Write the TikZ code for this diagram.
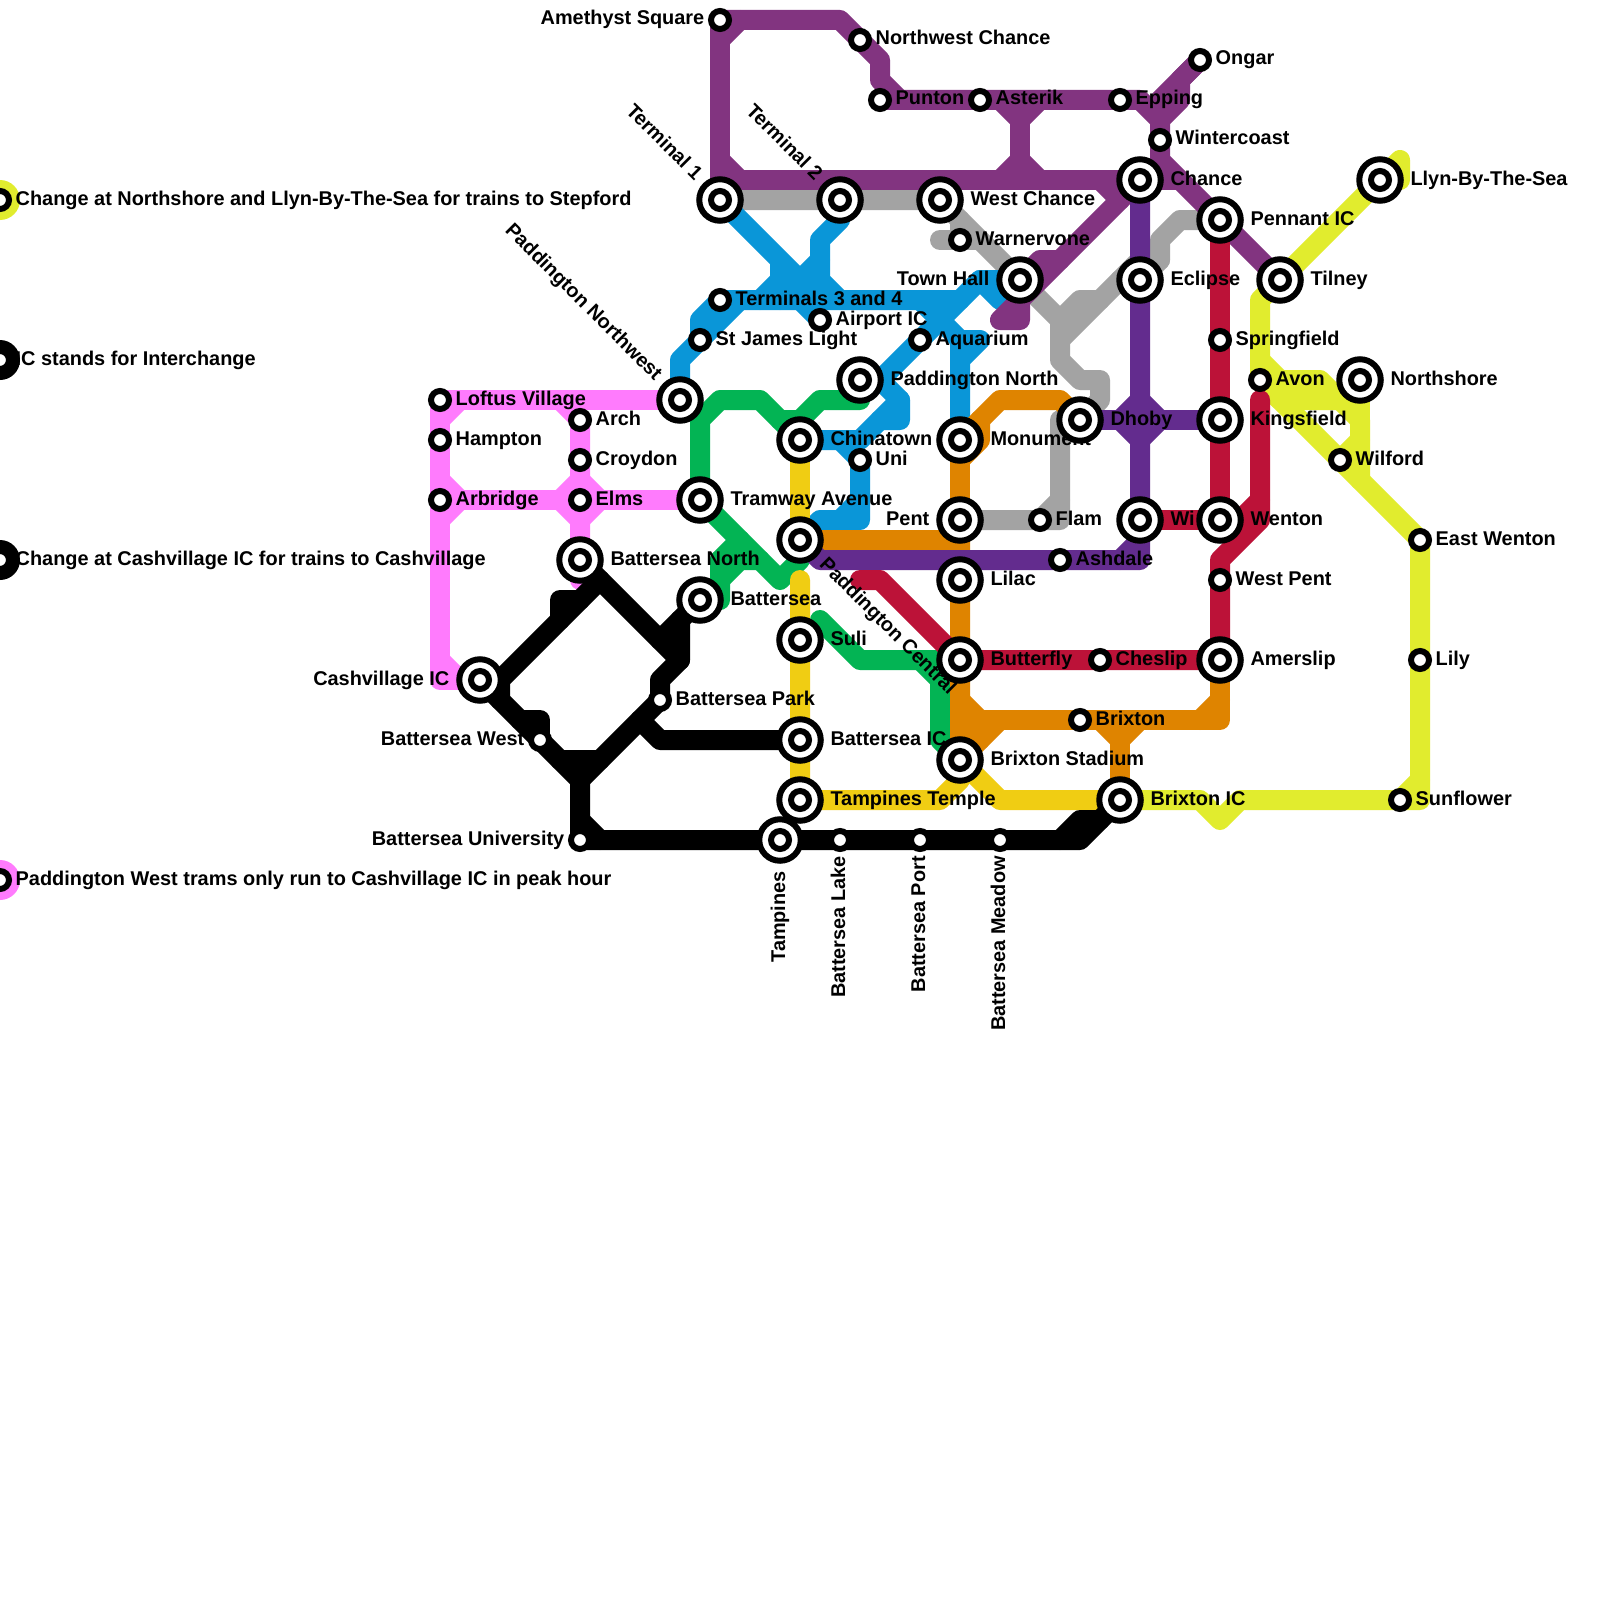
\documentclass[tikz,border=0pt]{standalone}
\usepackage{fontspec}
\setmainfont{Liberation Sans}[BoldFont={Liberation Sans Bold}]
\definecolor{cPurple}{HTML}{823480}
\definecolor{cDark}{HTML}{632C8E}
\definecolor{cBlue}{HTML}{0A96D8}
\definecolor{cGreen}{HTML}{03B454}
\definecolor{cYellow}{HTML}{F0CD13}
\definecolor{cOrange}{HTML}{DF8400}
\definecolor{cRed}{HTML}{BC1238}
\definecolor{cPink}{HTML}{FF7BFD}
\definecolor{cLime}{HTML}{E1EC2E}
\definecolor{cGray}{HTML}{A3A3A3}
\tikzset{
  route/.style={line width=20pt,line join=round,line cap=round,#1},
  ringbig/.style={circle,draw=black,fill=white,line width=6pt,minimum size=41.5pt,inner sep=0pt},
  ringsmall/.style={circle,draw=black,fill=white,line width=6pt,minimum size=18pt,inner sep=0pt},
  halo/.style={circle,fill=#1,minimum size=40pt,inner sep=0pt},
  lab/.style={font=\fontsize{19.9}{24}\selectfont\bfseries,inner sep=0pt,text=black},
}
\newcommand{\stS}[1]{\node[ringsmall] (st-#1) at (#1) {};}
\newcommand{\stB}[1]{\node[ringbig] (st-#1) at (#1) {};\node[ringsmall] (sti-#1) at (#1) {};}
\newcommand{\labSR}[2]{\node[lab,anchor=base west] (l-#1) at ([shift={(15.5,5)}]#1) {#2};}
\newcommand{\labSL}[2]{\node[lab,anchor=base east] (l-#1) at ([shift={(-15.5,5)}]#1) {#2};}
\newcommand{\labBR}[2]{\node[lab,anchor=base west] (l-#1) at ([shift={(30.3,5)}]#1) {#2};}
\newcommand{\labBL}[2]{\node[lab,anchor=base east] (l-#1) at ([shift={(-30.5,5)}]#1) {#2};}
\newcommand{\labNW}[2]{\node[lab,anchor=base east,rotate=-45] (l-#1) at ([shift={(-25.5,-18.5)}]#1) {#2};}
\newcommand{\labSE}[2]{\node[lab,anchor=base west,rotate=-45] (l-#1) at ([shift={(18.5,25.5)}]#1) {#2};}
\newcommand{\labUp}[3]{\node[lab,anchor=base east,rotate=90] (l-#1) at ([shift={(5,#3)}]#1) {#2};}
\begin{document}
\begin{tikzpicture}[x=1pt,y=-1pt]
\useasboundingbox (0,0) rectangle (1600,1600);
\fill[white] (0,0) rectangle (1600,1600);
\clip (0,0) rectangle (1600,1600);
% stations
\foreach \n/\x/\y in {terminalA/720/200,terminalB/840/200,westchance/940/200,chance/1140/180,pennant/1220/220,tilney/1280/280,llyn/1380/180,townhall/1020/280,eclipse/1140/280,northshore/1360/380,padnw/680/400,padnorth/860/380,chinatown/800/440,monument/960/440,dhoby/1080/420,kingsfield/1220/420,tramway/700/500,padcentral/800/540,pent/960/520,wi/1140/520,wenton/1220/520,batnorth/580/560,battersea/700/600,lilac/960/580,suli/800/640,butterfly/960/660,amerslip/1220/660,cashvillage/480/680,batic/800/740,brixstad/960/760,temple/800/800,brixic/1120/800,tampines/780/840,
amethyst/720/20,nwchance/860/40,punton/880/100,asterik/980/100,epping/1120/100,ongar/1200/60,wintercoast/1160/140,warnervone/960/240,terminals/720/300,airport/820/320,stjames/700/340,aquarium/920/340,springfield/1220/340,avon/1260/380,wilford/1340/460,eastwenton/1420/540,loftus/440/400,arch/580/420,hampton/440/440,croydon/580/460,arbridge/440/500,elms/580/500,uni/860/460,flam/1040/520,ashdale/1060/560,westpent/1220/580,cheslip/1100/660,brixton/1080/720,batpark/660/700,batwest/540/740,batuni/580/840,batlake/840/840,batport/920/840,batmeadow/1000/840,lily/1420/660,sunflower/1400/800,
legA/0/200,legB/0/360,legC/0/560,legD/0/880}
  {\coordinate (\n) at (\x,\y);}
% lime
\draw[route=cLime] (brixic) -- (1200,800) -- (1220,820) -- (1240,800) -- (1420,800) -- (lily) -- (eastwenton) -- (wilford) -- (avon) -- (1260,300) -- (tilney) -- (1400,160) -- (1400,180) -- (llyn);
\draw[route=cLime] (sunflower) -- (1420,780);
\draw[route=cLime] (1260,360) -- (1280,380) -- (1320,380) -- (1360,420) -- (1360,480);
\draw[route=cLime] (northshore) -- (1360,420);
\draw[route=cLime] (1360,440) -- (wilford);
\draw[route=cLime] (avon) -- (1280,400) -- (1340,400);
% pink
\draw[route=cPink] (padnw) -- (loftus) -- (hampton) -- (arbridge) -- (440,680) -- (cashvillage);
\draw[route=cPink] (440,660) -- (460,680);
\draw[route=cPink] (440,420) -- (460,400);
\draw[route=cPink] (560,400) -- (arch) -- (croydon) -- (elms) -- (batnorth) -- (580,580);
\draw[route=cPink] (arbridge) -- (tramway);
\draw[route=cPink] (440,480) -- (460,500) -- (440,520);
\draw[route=cPink] (560,500) -- (580,480) -- (600,500) -- (580,520) -- (560,500);
% gray
\draw[route=cGray] (terminalA) -- (westchance) -- (1060,320) -- (1060,360) -- (1080,380) -- (1100,380) -- (1100,400) -- (dhoby) -- (1060,420) -- (1060,520) -- (pent);
\draw[route=cGray] (1040,520) -- (1060,500);
\draw[route=cGray] (960,220) -- (warnervone) -- (940,240) -- (980,240);
\draw[route=cGray] (1060,340) -- (1140,260) -- (1160,260);
\draw[route=cGray] (1060,320) -- (1080,300) -- (1100,300);
\draw[route=cGray] (eclipse) -- (1120,280);
\draw[route=cGray] (eclipse) -- (1160,260) -- (1160,240) -- (1180,220) -- (pennant);
% blue
\draw[route=cBlue] (terminalA) -- (820,300);
\draw[route=cBlue] (terminalB) -- (840,220) -- (820,240) -- (820,280) -- (840,300);
\draw[route=cBlue] (820,260) -- (780,300);
\draw[route=cBlue] (780,265) -- (780,280) -- (760,300);
\draw[route=cBlue] (padnw) -- (680,360) -- (stjames) -- (740,300);
\draw[route=cBlue] (stjames) -- (700,320) -- (terminals) -- (960,300) -- (980,280) -- (townhall);
\draw[route=cBlue] (980,280) -- (1000,300);
\draw[route=cBlue] (800,300) -- (airport);
\draw[route=cBlue] (960,300) -- (aquarium) -- (880,380) -- (900,400) -- (900,420) -- (880,420);
\draw[route=cBlue] (920,300) -- (960,340) -- (980,340) -- (960,360) -- (monument);
\draw[route=cBlue] (960,340) -- (960,360);
\draw[route=cBlue] (chinatown) -- (860,440) -- (900,400);
\draw[route=cBlue] (840,440) -- (uni) -- (860,520) -- (820,520) -- (padcentral);
\draw[route=cBlue] (840,520) -- (860,500);
% green
\draw[route=cGreen] (tramway) -- (700,420) -- (720,400) -- (760,400) -- (chinatown);
\draw[route=cGreen] (780,420) -- (800,420) -- (820,400) -- (860,400);
\draw[route=cGreen] (tramway) -- (780,580) -- (800,560) -- (padcentral);
\draw[route=cGreen] (740,540) -- (720,560) -- (720,600);
\draw[route=cGreen] (720,580) -- (740,560) -- (760,560);
\draw[route=cGreen] (720,560) -- (740,560);
\draw[route=cGreen] (820,620) -- (860,660) -- (butterfly);
\draw[route=cGreen] (920,660) -- (940,680) -- (940,740) -- (brixstad);
% yellow
\draw[route=cYellow] (chinatown) -- (padcentral);
\draw[route=cYellow] (800,580) -- (suli) -- (batic) -- (temple) -- (940,800) -- (960,780) -- (brixstad);
\draw[route=cYellow] (brixstad) -- (1000,800) -- (brixic);
% orange
\draw[route=cOrange] (monument) -- (1000,400) -- (1060,400) -- (dhoby);
\draw[route=cOrange] (980,420) -- (980,440) -- (960,460);
\draw[route=cOrange] (monument) -- (pent) -- (960,540) -- (padcentral);
\draw[route=cOrange] (960,540) -- (lilac) -- (butterfly) -- (960,720) -- (980,740) -- (1000,720);
\draw[route=cOrange] (960,720) -- (brixstad);
\draw[route=cOrange] (980,740) -- (brixstad);
\draw[route=cOrange] (960,700) -- (980,720);
\draw[route=cOrange] (960,720) -- (1220,720) -- (amerslip);
\draw[route=cOrange] (1200,720) -- (1220,700);
\draw[route=cOrange] (1100,720) -- (1120,740) -- (1140,720);
\draw[route=cOrange] (1120,740) -- (brixic);
% purple
\draw[route=cPurple] (amethyst) -- (840,20) -- (880,60) -- (880,80) -- (900,100);
\draw[route=cPurple] (720,40) -- (740,20);
\draw[route=cPurple] (amethyst) -- (terminalA);
\draw[route=cPurple] (720,160) -- (740,180);
\draw[route=cPurple] (punton) -- (1140,100) -- (1160,120);
\draw[route=cPurple] (ongar) -- (1160,100);
\draw[route=cPurple] (ongar) -- (1180,80) -- (1180,100) -- (1160,120) -- (1160,160) -- (tilney);
\draw[route=cPurple] (1000,100) -- (1020,120) -- (1040,100);
\draw[route=cPurple] (1020,120) -- (1020,160);
\draw[route=cPurple] (1000,180) -- (1020,160) -- (1040,180);
\draw[route=cPurple] (720,180) -- (chance) -- (1180,180);
\draw[route=cPurple] (1100,180) -- (1120,200);
\draw[route=cPurple] (chance) -- (1020,300) -- (1000,320) -- (1020,320) -- (townhall);
\draw[route=cPurple] (1060,260) -- (1040,260) -- (townhall);
% dark purple
\draw[route=cDark] (chance) -- (eclipse) -- (dhoby -| chance) -- (wi) -- (1140,560) -- (ashdale) -- (820,560) -- (padcentral);
\draw[route=cDark] (1120,560) -- (1140,540);
\draw[route=cDark] (dhoby) -- (kingsfield);
\draw[route=cDark] (1120,420) -- (1140,400) -- (1160,420) -- (1140,440) -- (1120,420);
% red
\draw[route=cRed] (pennant) -- (springfield) -- (kingsfield) -- (wenton) -- (wi);
\draw[route=cRed] (wenton) -- (1240,520) -- (1260,500);
\draw[route=cRed] (1260,400) -- (1260,520) -- (1220,560) -- (westpent) -- (amerslip) -- (cheslip) -- (butterfly) -- (880,580) -- (860,580);
% black
\draw[route=black] (batnorth) -- (680,660) -- (680,620);
\draw[route=black] (battersea) -- (660,640);
\draw[route=black] (680,660) -- (660,680) -- (batpark) -- (580,780);
\draw[route=black] (600,580) -- (500,680) -- (500,700) -- (580,780);
\draw[route=black] (cashvillage) -- (500,700);
\draw[route=black] (cashvillage) -- (500,680);
\draw[route=black] (560,620) -- (560,600) -- (580,600);
\draw[route=black] (520,720) -- (540,720) -- (batwest);
\draw[route=black] (560,760) -- (600,760);
\draw[route=black] (640,720) -- (660,740) -- (batic);
\draw[route=black] (580,760) -- (batuni) -- (tampines) -- (batlake) -- (batport) -- (batmeadow) -- (1080,840) -- (brixic);
\draw[route=black] (580,820) -- (600,840);
\draw[route=black] (1060,840) -- (1080,820) -- (1100,820);
% legend halos
\node[halo=cLime] (h-legA) at (legA) {};
\node[halo=black] (h-legB) at (legB) {};
\node[halo=black] (h-legC) at (legC) {};
\node[halo=cPink] (h-legD) at (legD) {};
% labels
\foreach \n/\t in {nwchance/Northwest Chance,punton/Punton,asterik/Asterik,epping/Epping,ongar/Ongar,wintercoast/Wintercoast,warnervone/Warnervone,terminals/Terminals 3 and 4,airport/Airport IC,stjames/St James Light,aquarium/Aquarium,springfield/Springfield,avon/Avon,wilford/Wilford,eastwenton/East Wenton,loftus/Loftus Village,arch/Arch,hampton/Hampton,croydon/Croydon,arbridge/Arbridge,elms/Elms,uni/Uni,flam/Flam,ashdale/Ashdale,westpent/West Pent,cheslip/Cheslip,brixton/Brixton,batpark/Battersea Park,lily/Lily,sunflower/Sunflower}
  {\labSR{\n}{\t}}
\foreach \n/\t in {amethyst/Amethyst Square,batwest/Battersea West,batuni/Battersea University}
  {\labSL{\n}{\t}}
\foreach \n/\t in {westchance/West Chance,chance/Chance,pennant/Pennant IC,tilney/Tilney,llyn/Llyn-By-The-Sea,eclipse/Eclipse,northshore/Northshore,padnorth/Paddington North,chinatown/Chinatown,monument/Monument,dhoby/Dhoby,kingsfield/Kingsfield,tramway/Tramway Avenue,wi/Wi,wenton/Wenton,batnorth/Battersea North,battersea/Battersea,lilac/Lilac,suli/Suli,butterfly/Butterfly,amerslip/Amerslip,batic/Battersea IC,brixstad/Brixton Stadium,temple/Tampines Temple,brixic/Brixton IC}
  {\labBR{\n}{\t}}
\foreach \n/\t in {townhall/Town Hall,pent/Pent,cashvillage/Cashvillage IC}
  {\labBL{\n}{\t}}
\labNW{terminalA}{Terminal 1}
\labNW{terminalB}{Terminal 2}
\labNW{padnw}{Paddington Northwest}
\labSE{padcentral}{Paddington Central}
\labUp{tampines}{Tampines}{31}
\labUp{batlake}{Battersea Lake}{16}
\labUp{batport}{Battersea Port}{16}
\labUp{batmeadow}{Battersea Meadow}{16}
% stations on top
\foreach \n in {terminalA,terminalB,westchance,chance,pennant,tilney,llyn,townhall,eclipse,northshore,padnw,padnorth,chinatown,monument,dhoby,kingsfield,tramway,padcentral,pent,wi,wenton,batnorth,battersea,lilac,suli,butterfly,amerslip,cashvillage,batic,brixstad,temple,brixic,tampines}
  {\stB{\n}}
\foreach \n in {amethyst,nwchance,punton,asterik,epping,ongar,wintercoast,warnervone,terminals,airport,stjames,aquarium,springfield,avon,wilford,eastwenton,loftus,arch,hampton,croydon,arbridge,elms,uni,flam,ashdale,westpent,cheslip,brixton,batpark,batwest,batuni,batlake,batport,batmeadow,lily,sunflower,legA,legB,legC,legD}
  {\stS{\n}}
% legend text
\node[lab,anchor=base west] (t-legA) at ([shift={(15.5,5)}]legA) {Change at Northshore and Llyn-By-The-Sea for trains to Stepford};
\node[lab,anchor=base west] (t-legB) at ([shift={(15.5,5)}]legB) {IC stands for Interchange};
\node[lab,anchor=base west] (t-legC) at ([shift={(15.5,5)}]legC) {Change at Cashvillage IC for trains to Cashvillage};
\node[lab,anchor=base west] (t-legD) at ([shift={(15.5,5)}]legD) {Paddington West trams only run to Cashvillage IC in peak hour};
\end{tikzpicture}
\end{document}
